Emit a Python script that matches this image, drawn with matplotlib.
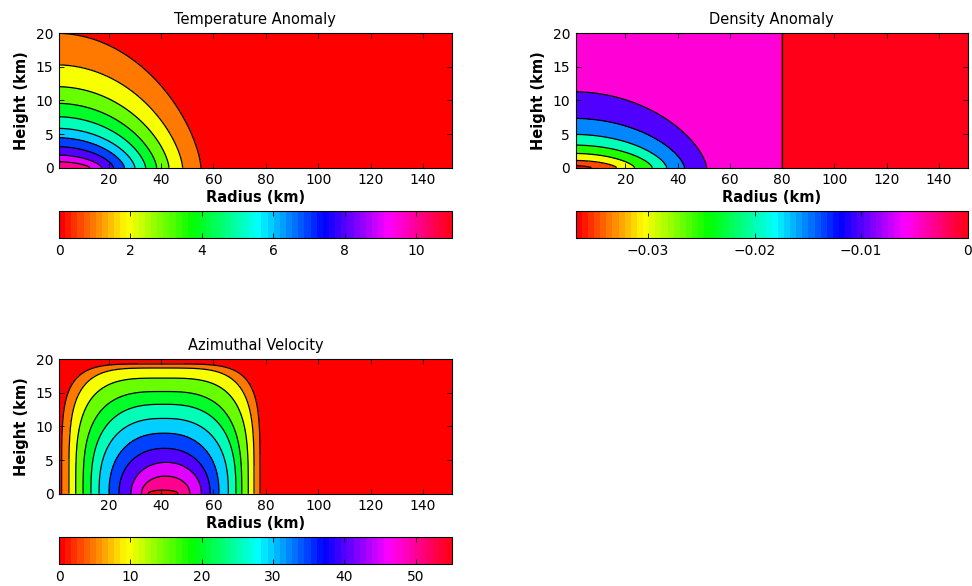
import numpy as np
import matplotlib
matplotlib.use('Agg')
import matplotlib.pyplot as plt
from matplotlib.colors import ListedColormap, Normalize, hsv_to_rgb
from matplotlib.cm import ScalarMappable

plt.rcParams['font.family'] = ['DejaVu Sans']

# --- data ----------------------------------------------------------------
# temperature anomaly: contour levels, radius where each meets z=0 and
# height where each meets the left edge
temp_levels = [1, 2, 3, 4, 5, 6, 7, 8, 9, 10]
temp_r0 = [55.2, 48.2, 43.0, 38.3, 34.1, 30.0, 26.0, 21.8, 17.3, 12.8]
temp_z0 = [20.0, 15.3, 12.06, 9.58, 7.59, 5.86, 4.47, 3.13, 1.89, 0.89]
temp_range = [0.0, 11.0]
temp_ticks = [0, 2, 4, 6, 8, 10]

# density anomaly (outermost contour first)
dens_levels = [-0.005, -0.01, -0.015, -0.02, -0.025, -0.03, -0.035]
dens_r0 = [51.1, 42.6, 35.8, 30.3, 23.5, 16.7, 7.0]
dens_z0 = [11.3, 7.34, 4.96, 3.37, 2.13, 1.09, 0.3]
dens_edge = 80.0          # anomaly vanishes beyond this radius
dens_range = [-0.0368, 0.0]
dens_ticks = [-0.03, -0.02, -0.01, 0]
dens_ticklabels = ['\u22120.03', '\u22120.02', '\u22120.01', '0']

# azimuthal velocity: inner / outer radius at z=0 and top height of each contour
vel_levels = [5, 10, 15, 20, 25, 30, 35, 40, 45, 50, 55]
vel_r_in = [2.0, 4.8, 7.4, 10.2, 13.2, 16.3, 20.1, 23.9, 28.5, 32.5, 35.0]
vel_r_out = [77.8, 75.5, 73.3, 70.8, 68.6, 65.7, 62.1, 58.7, 55.4, 51.0, 46.5]
vel_z_top = [19.3, 18.7, 17.2, 15.2, 13.3, 11.2, 9.0, 6.75, 4.67, 2.63, 0.55]
vel_shape = [5.0, 4.2, 3.5, 3.0, 2.7, 2.5, 2.3, 2.15, 2.05, 2.0, 2.0]
vel_range = [0.0, 55.05]
vel_ticks = [0, 10, 20, 30, 40, 50]

r = np.arange(1.0, 151.01, 0.25)
z = np.arange(0.0, 20.001, 0.05)
R, Z = np.meshgrid(r, z)


def nested_field(levels, centre, half_w, height, px, pz, low, high):
    # field whose level curves pass through the read intercepts
    lv = np.asarray(levels, float)
    s = np.stack([np.log((np.abs(R - c) / a) ** p + (Z / b) ** q + 1e-12)
                  for c, a, b, p, q in zip(centre, half_w, height, px, pz)])
    inside = (s <= 0).sum(axis=0)
    k = np.clip(inside - 1, 0, len(lv) - 2)
    s_lo = np.take_along_axis(s, k[None], 0)[0]
    s_hi = np.take_along_axis(s, (k + 1)[None], 0)[0]
    frac = -s_lo / np.maximum(s_hi - s_lo, 1e-9)
    val = lv[k] + (lv[k + 1] - lv[k]) * frac
    return np.clip(val, low, high)


n_t = len(temp_levels)
temp = nested_field(temp_levels, [0] * n_t, temp_r0, temp_z0,
                    [2.0] * n_t, [1.5] * n_t, 0.0, temp_range[1])

n_d = len(dens_levels)
dens = -nested_field([-v for v in dens_levels], [0] * n_d, dens_r0, dens_z0,
                     [2.0] * n_d, [1.5] * n_d, 0.0004, -dens_range[0])
dens[R >= dens_edge] = 0.0

vel_c = [(a + b) / 2 for a, b in zip(vel_r_in, vel_r_out)]
vel_w = [(b - a) / 2 for a, b in zip(vel_r_in, vel_r_out)]
vel = nested_field(vel_levels, vel_c, vel_w, vel_z_top,
                   vel_shape, vel_shape, 0.0, vel_range[1])

# MATLAB style hsv(64)
hsv64 = hsv_to_rgb(np.stack([np.arange(64) / 64, np.ones(64), np.ones(64)], axis=1))
cmap = ListedColormap(hsv64)


def level_color(v, lim):
    i = int(np.floor((v - lim[0]) / (lim[1] - lim[0]) * 64))
    return hsv64[min(max(i, 0), 63)]


fig = plt.figure(figsize=(9.72, 5.86), dpi=100)

panels = [
    ('Temperature Anomaly', temp, temp_levels, temp_range, temp_ticks, None,
     [0.0607, 0.7138, 0.404, 0.2294], [0.0607, 0.5934, 0.404, 0.0466]),
    ('Density Anomaly', dens, sorted(dens_levels) + [-0.0002], dens_range, dens_ticks,
     dens_ticklabels, [0.5923, 0.7138, 0.4033, 0.2294], [0.5923, 0.5934, 0.4033, 0.0466]),
    ('Azimuthal Velocity', vel, vel_levels, vel_range, vel_ticks, None,
     [0.0607, 0.1575, 0.404, 0.2294], [0.0607, 0.0375, 0.404, 0.0455]),
]

for title, field, levels, lim, cticks, clabels, pos, cpos in panels:
    ax = fig.add_axes(pos)
    bounds = [lim[0] - 1.0] + list(levels) + [lim[1] + 1.0]
    cols = [level_color(lim[0], lim)] + [level_color(v, lim) for v in levels]
    ax.contourf(R, Z, field, levels=bounds, colors=cols)
    ax.contour(R, Z, field, levels=levels, colors='k', linewidths=0.9,
               linestyles='solid')
    ax.set_xlim(1, 151)
    ax.set_ylim(0, 20)
    ax.set_xticks([20, 40, 60, 80, 100, 120, 140])
    ax.set_yticks([0, 5, 10, 15, 20])
    ax.tick_params(direction='in', top=True, right=True, length=3.5, width=0.6,
                   labelsize=10, pad=4)
    for sp in ax.spines.values():
        sp.set_linewidth(0.8)
    ax.set_title(title, fontsize=10.5, pad=7)
    ax.set_xlabel('Radius (km)', fontsize=10.5, fontweight='bold', labelpad=2)
    ax.set_ylabel('Height (km)', fontsize=10.5, fontweight='bold', labelpad=5)

    cax = fig.add_axes(cpos)
    sm = ScalarMappable(norm=Normalize(lim[0], lim[1]), cmap=cmap)
    cb = fig.colorbar(sm, cax=cax, orientation='horizontal')
    cb.set_ticks(cticks)
    if clabels:
        cb.set_ticklabels(clabels)
    cb.outline.set_linewidth(0.8)
    cax.tick_params(direction='in', top=True, bottom=True, length=3.5, width=0.6,
                    labelsize=10, pad=4)

fig.savefig('out.png', dpi=100)
